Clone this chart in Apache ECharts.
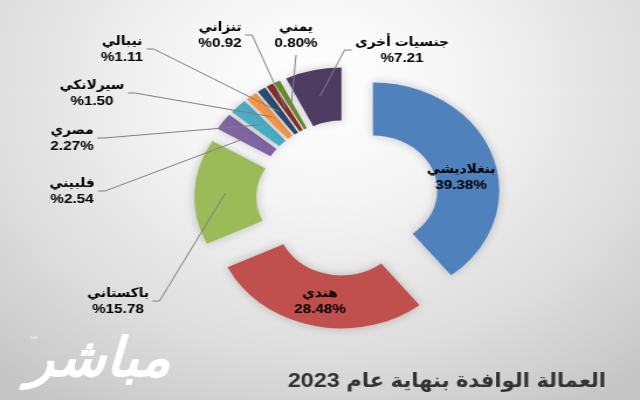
<!DOCTYPE html>
<html>
<head>
<meta charset="utf-8">
<script src="https://cdn.jsdelivr.net/npm/echarts@6/dist/echarts.min.js"></script>
<style>
  html, body { margin: 0; padding: 0; }
  #bg { width: 640px; height: 400px; overflow: hidden; position: relative;
        background: radial-gradient(ellipse 75% 95% at 50% 22%, #ffffff 0%, #f5f5f5 30%, #dddddd 70%, #c6c6c6 100%); }
  #chart { width: 547px; height: 400px; position: absolute; left: 0; top: 0;
           transform: scaleX(1.17); transform-origin: 0 0; }
</style>
</head>
<body>
<div id="bg"><div id="chart"></div></div>
<script>
// ---- data ----
const categories = ['بنغلاديشي', 'هندي', 'باكستاني', 'فلبيني', 'مصري', 'سيرلانكي', 'نيبالي', 'تنزاني', 'يمني', 'جنسيات أخرى'];
const shares = [39.38, 28.48, 15.78, 2.54, 2.27, 1.50, 1.11, 0.92, 0.80, 7.21];
const percentFirst = [false, false, true, true, false, true, true, true, false, true];
const titleText = 'العمالة الوافدة بنهاية عام 2023';

// ---- styles / layout ----
const colors = ['#4F81BD', '#C0504D', '#9BBB59', '#8064A2', '#4BACC6', '#F79646', '#2C4D75', '#8A2E2B', '#6A8A2E', '#4D3B62'];
const SX = 1.17;                 // horizontal stretch of the whole picture
const CX = 297, CY = 198, R_OUT = 108, R_IN = 55, OFF = 23;
// label block centres (picture coordinates)
const labelAnchors = [[461, 177], [320, 301], [118, 301], [72, 191], [72, 138], [92, 93], [122, 49], [220, 35], [296, 35], [402, 50]];
const FONT = '"Liberation Sans", Arial, "DejaVu Sans Condensed", "DejaVu Sans", sans-serif';

const total = shares.reduce((a, b) => a + b, 0);
const bisectors = [];
{ let acc = 0; shares.forEach(v => { bisectors.push((acc + v / 2) / total * 2 * Math.PI); acc += v; }); }

function sliceMid(i) {
  const t = bisectors[i];
  const ex = CX + OFF * Math.sin(t), ey = CY - OFF * Math.cos(t);
  const rho = (R_OUT + R_IN) / 2;
  return [ex + rho * Math.sin(t), ey - rho * Math.cos(t)];
}

const chart = echarts.init(document.getElementById('chart'), null, { renderer: 'canvas' });
chart.setOption({
  backgroundColor: 'transparent',
  animation: false,
  title: {
    text: titleText, right: 24, top: 366,
    textStyle: { fontSize: 20, fontWeight: 'bold', color: '#333333', fontFamily: FONT }
  },
  graphic: [
    { type: 'text', x: 84, y: 362, silent: true,
      style: { text: 'مباشر', font: 'italic bold 54px "DejaVu Sans Condensed", "DejaVu Sans", sans-serif', fill: '#ffffff',
               textAlign: 'center', textVerticalAlign: 'middle',
               shadowBlur: 4, shadowColor: 'rgba(0,0,0,0.45)', shadowOffsetX: 1, shadowOffsetY: 2 } },
    { type: 'text', x: 29, y: 341, silent: true,
      style: { text: '™', font: '9px "DejaVu Sans", sans-serif', fill: '#ffffff',
               textAlign: 'center', textVerticalAlign: 'middle',
               shadowBlur: 2, shadowColor: 'rgba(0,0,0,0.5)' } }
  ],
  series: [{
    // exploded coloured ring
    type: 'pie',
    z: 2,
    center: [CX, CY],
    radius: [R_IN, R_OUT],
    startAngle: 90,
    clockwise: true,
    selectedMode: 'multiple',
    selectedOffset: OFF,
    emphasis: { disabled: true },
    itemStyle: { shadowBlur: 10, shadowColor: 'rgba(0,0,0,0.22)' },
    label: { show: false },
    labelLine: { show: false },
    data: categories.map((name, i) => ({
      name: name, value: shares[i], selected: true,
      itemStyle: { color: colors[i] },
      select: { itemStyle: { color: colors[i] } }
    }))
  }, {
    // carrier of labels and leader lines
    type: 'pie',
    z: 6,
    center: [CX, CY],
    radius: [R_IN, R_OUT],
    startAngle: 90,
    clockwise: true,
    silent: true,
    avoidLabelOverlap: false,
    emphasis: { disabled: true },
    itemStyle: { color: 'rgba(0,0,0,0)' },
    label: {
      show: true, position: 'outside', color: '#000', fontSize: 13, fontWeight: 'bold',
      fontFamily: FONT, lineHeight: 16, align: 'center',
      formatter: p => {
        const v = shares[p.dataIndex].toFixed(2);
        return categories[p.dataIndex] + '\n' + (percentFirst[p.dataIndex] ? '%' + v : v + '%');
      }
    },
    labelLine: { show: true, length: 10, length2: 10, lineStyle: { color: '#7f7f7f', width: 1 } },
    labelLayout: function (params) {
      const i = params.dataIndex;
      const ax = labelAnchors[i][0] / SX, ay = labelAnchors[i][1];
      const res = { x: ax, y: ay, align: 'center', verticalAlign: 'middle' };
      if (i < 2) return res;
      const w = params.labelRect.width, h = params.labelRect.height;
      const E = sliceMid(i);
      if (Math.abs(E[0] - ax) < w / 2) {
        res.labelLinePoints = [E, [ax, ay + h / 2 + 4]];
      } else {
        const side = E[0] > ax ? 1 : -1;
        const edgeX = ax + side * (w / 2 + 3);
        res.labelLinePoints = [E, [edgeX + side * 6, ay], [edgeX, ay]];
      }
      return res;
    },
    data: categories.map((name, i) => ({
      name: name, value: shares[i],
      labelLine: { show: i >= 2 }
    }))
  }]
});
</script>
</body>
</html>
